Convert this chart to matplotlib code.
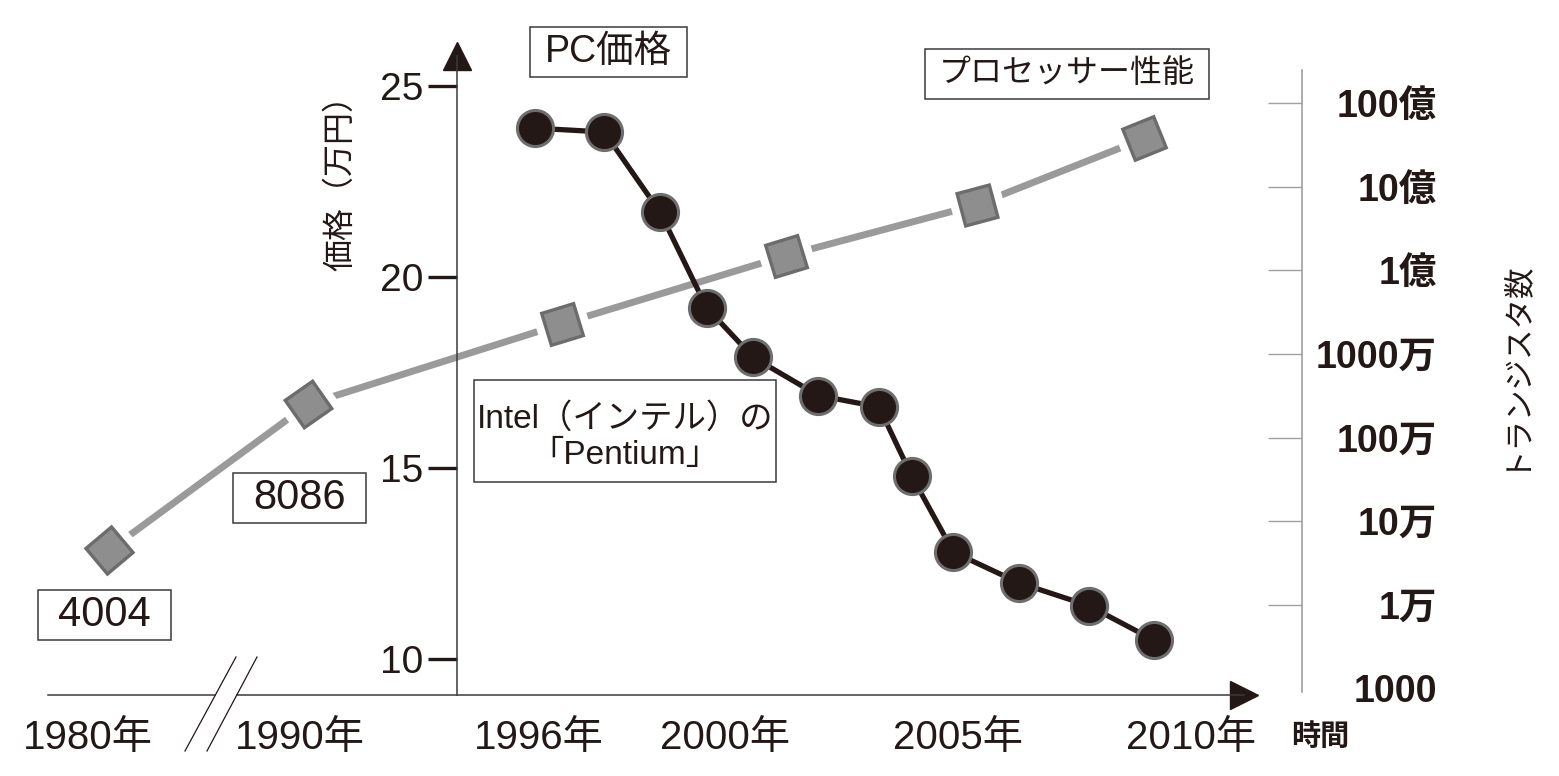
import numpy as np
import matplotlib
matplotlib.use('Agg')
import matplotlib.pyplot as plt
from matplotlib.lines import Line2D
from matplotlib.patches import Rectangle

plt.rcParams['font.family'] = ['Liberation Sans', 'Noto Sans CJK JP', 'DejaVu Sans']

# --- data ---
price_years = [1995.9, 1997.4, 1998.6, 1999.6, 2000.6, 2002.0,
               2003.3, 2004.0, 2004.9, 2006.3, 2007.8, 2009.2]
price_man_yen = [23.9, 23.8, 21.7, 19.2, 17.9, 16.9,
                 16.6, 14.8, 12.8, 12.0, 11.4, 10.5]

cpu_years = [1981.0, 1990.2, 1996.5, 2001.3, 2005.4, 2009.0]
transistors = [4.5e4, 2.5e6, 2.3e7, 1.5e8, 6.1e8, 3.8e9]

year_ticks = [1980, 1990, 1996, 2000, 2005, 2010]
year_labels = ['1980年', '1990年', '1996年', '2000年', '2005年', '2010年']
price_ticks = [10, 15, 20, 25]
tr_ticks = [1e3, 1e4, 1e5, 1e6, 1e7, 1e8, 1e9, 1e10]
tr_labels = ['1000', '1万', '10万', '100万', '1000万', '1億', '10億', '100億']

# --- styling ---
W, H = 1559, 776
INK = '#231815'
GRAY_LINE = '#9a9a9a'
SQ_FACE = '#8e8e8e'
SQ_EDGE = '#6c6c6c'
# rotation of each square marker (follows the line direction)
sq_angles = [85, 80, 62, 62, 60, 67]


def fx(p):
    return p / W


def fy(p):
    return 1 - p / H


# broken time axis: 1980s squeezed, 1990-96 medium, after 1996 linear
anchor_years = np.array([1960, 1980, 1990, 1996, 2010, 2030])
anchor_pos = np.array([-336, 88, 300, 539, 1191, 2122])


def fwd(x):
    return np.interp(x, anchor_years, anchor_pos)


def inv(p):
    return np.interp(p, anchor_pos, anchor_years)


fig = plt.figure(figsize=(W / 100, H / 100), dpi=100)
ax = fig.add_axes([fx(48), 81 / H, 1196 / W, 639 / H])
ax.set_xscale('function', functions=(fwd, inv))
ax.set_xlim(inv(48), inv(1244))
ax.set_ylim(9.06, 25.79)

ax2 = ax.twinx()
ax2.set_yscale('log')
ax2.set_ylim(10 ** 2.921, 10 ** 10.565)

# processor line (right axis) with white halo gaps round the squares
ax2.plot(cpu_years, transistors, color=GRAY_LINE, lw=5, solid_capstyle='butt', zorder=1)
for yr, tr, ang in zip(cpu_years, transistors, sq_angles):
    ax2.plot([yr], [tr], linestyle='none', marker=(4, 0, ang), ms=52,
             mfc='white', mec='white', zorder=2)
    ax2.plot([yr], [tr], linestyle='none', marker=(4, 0, ang), ms=34,
             mfc=SQ_FACE, mec=SQ_EDGE, mew=2.4, zorder=3)

# PC price line (left axis) on top
ax.set_zorder(ax2.get_zorder() + 1)
ax.patch.set_visible(False)
ax.plot(price_years, price_man_yen, color=INK, lw=3.8, zorder=4,
        marker='o', ms=26, mfc=INK, mec='#6e6e6e', mew=2.2)

# left axis
for s in ['top', 'right', 'bottom']:
    ax.spines[s].set_visible(False)
ax.spines['left'].set_position(('axes', (457 - 48) / 1196))
ax.spines['left'].set_color('#3a3a3a')
ax.spines['left'].set_linewidth(1.1)
ax.set_yticks(price_ticks)
ax.set_yticklabels([str(t) for t in price_ticks])
ax.tick_params(axis='y', length=21, width=2.4, color=INK, pad=3,
               labelsize=28, labelcolor=INK)
ax.set_ylabel('価格（万円）', fontsize=23, color=INK)
ax.yaxis.set_label_coords((356 - 48) / 1196, (695 - 175) / 639)

# time axis with break
ax.set_xticks(year_ticks)
ax.set_xticklabels(year_labels)
ax.tick_params(axis='x', length=0, pad=17, labelsize=29, labelcolor=INK)
ax.spines['bottom'].set_visible(True)
ax.spines['bottom'].set_color('#3a3a3a')
ax.spines['bottom'].set_linewidth(1.1)
ax.spines['bottom'].set_bounds(inv(237), inv(1244))
ax.plot([inv(48), inv(215)], [0, 0], color='#3a3a3a', lw=1.1,
        transform=ax.get_xaxis_transform(), clip_on=False)
ax.plot([(457 - 48) / 1196], [1], marker='^', ms=20, color=INK,
        transform=ax.transAxes, clip_on=False)
ax.plot([1], [0], marker='>', ms=20, color=INK,
        transform=ax.transAxes, clip_on=False)
for x0, x1 in [(236, 185), (257, 207)]:
    fig.add_artist(Line2D([fx(x0), fx(x1)], [fy(657), fy(751)],
                          transform=fig.transFigure, color=INK, lw=0.9))

# right (transistor) axis
for s in ['top', 'left', 'bottom']:
    ax2.spines[s].set_visible(False)
ax2.spines['right'].set_position(('axes', (1302 - 48) / 1196))
ax2.spines['right'].set_color('#a0a0a0')
ax2.spines['right'].set_linewidth(1.2)
ax2.spines['right'].set_bounds(10 ** 2.957, 10 ** 10.40)
ax2.set_yticks(tr_ticks)
ax2.set_yticklabels(tr_labels)
ax2.minorticks_off()
ax2.tick_params(axis='y', direction='in', length=24.5, width=1.0,
                color='#a0a0a0', pad=97, labelsize=27, labelcolor=INK)
for lab in ax2.get_yticklabels():
    lab.set_ha('right')
    lab.set_fontweight('bold')
ax2.yaxis.get_major_ticks()[0].tick2line.set_visible(False)
ax2.set_ylabel('トランジスタ数', fontsize=22, color=INK, rotation=90)
ax2.yaxis.set_label_coords((1497 - 48) / 1196, (695 - 363) / 639)

fig.text(fx(1320), fy(737), '時間', ha='center', va='center',
         fontsize=21, fontweight='bold', color=INK)

# labelled boxes: box in pixels, text centre offset, font size
boxes = [
    (530, 27, 687, 77, 0, 'PC価格', 27),
    (925, 49, 1209, 99, 0, 'プロセッサー性能', 23),
    (474, 380, 776, 482, 6, 'Intel（インテル）の\n「Pentium」', 24),
    (233, 473, 366, 523, 0, '8086', 30),
    (38, 590, 171, 640, 0, '4004', 30),
]
for x0, y0, x1, y1, dy, txt, fs in boxes:
    fig.add_artist(Rectangle((fx(x0), fy(y1)), (x1 - x0) / W, (y1 - y0) / H,
                             transform=fig.transFigure, fc='white',
                             ec='#3a3a3a', lw=1.1))
    fig.text(fx((x0 + x1) / 2), fy((y0 + y1) / 2 + dy), txt, ha='center',
             va='center', fontsize=fs, color=INK, linespacing=1.2,
             multialignment='center')

fig.savefig('out.png', dpi=100)
